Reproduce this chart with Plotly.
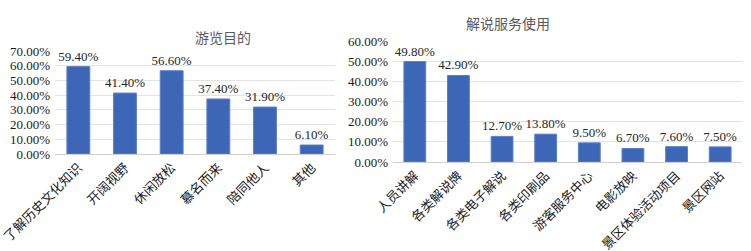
import plotly.graph_objects as go

W, H = 751, 251

left_title = "游览目的"
left_cats = ["了解历史文化知识", "开阔视野", "休闲放松", "慕名而来", "陪同他人", "其他"]
left_vals = [0.594, 0.414, 0.566, 0.374, 0.319, 0.061]

right_title = "解说服务使用"
right_cats = ["人员讲解", "各类解说牌", "各类电子解说", "各类印刷品", "游客服务中心", "电影放映", "景区体验活动项目", "景区网站"]
right_vals = [0.498, 0.429, 0.127, 0.138, 0.095, 0.067, 0.076, 0.075]

FONT = "Liberation Serif, Times New Roman, Noto Sans CJK SC"
BAR = "#3d67b6"
BAR_LINE = "#5a80c8"

def px_x(p):
    return p / W

def px_y(p):
    return 1 - p / H

fig = go.Figure()
fig.add_trace(go.Bar(x=left_cats, y=left_vals, xaxis="x", yaxis="y",
                     marker=dict(color=BAR, line=dict(color=BAR_LINE, width=1)),
                     width=0.49, text=[f"{v*100:.2f}%" for v in left_vals],
                     textposition="outside", cliponaxis=False, constraintext="none",
                     textfont=dict(size=13, color="#262626", family=FONT),
                     hoverinfo="skip"))
fig.add_trace(go.Bar(x=right_cats, y=right_vals, xaxis="x2", yaxis="y2",
                     marker=dict(color=BAR, line=dict(color=BAR_LINE, width=1)),
                     width=0.5, text=[f"{v*100:.2f}%" for v in right_vals],
                     textposition="outside", cliponaxis=False, constraintext="none",
                     textfont=dict(size=13, color="#262626", family=FONT),
                     hoverinfo="skip"))

axis_common = dict(tickfont=dict(size=13, color="#1a1a1a", family=FONT), automargin=False)

fig.update_layout(
    width=W, height=H,
    margin=dict(l=0, r=0, t=0, b=0),
    paper_bgcolor="white", plot_bgcolor="white",
    showlegend=False,
    font=dict(family=FONT),
    xaxis=dict(domain=[px_x(55), px_x(335)], anchor="y", tickangle=-45,
               showgrid=False, showline=True, linecolor="#d0d0d0", ticks="",
               **axis_common),
    yaxis=dict(domain=[px_y(154), px_y(51)], anchor="x", range=[0, 0.7],
               dtick=0.1, tickformat=".2%", showgrid=True, gridcolor="#e3e3e3",
               zeroline=False, ticklabelstandoff=4, **axis_common),
    xaxis2=dict(domain=[px_x(393), px_x(742)], anchor="y2", tickangle=-45,
                showgrid=False, showline=True, linecolor="#d0d0d0", ticks="",
                **axis_common),
    yaxis2=dict(domain=[px_y(162), px_y(41)], anchor="x2", range=[0, 0.6],
                dtick=0.1, tickformat=".2%", showgrid=True, gridcolor="#e3e3e3",
                zeroline=False, ticklabelstandoff=4, **axis_common),
    annotations=[
        dict(text=left_title, x=px_x(193), y=px_y(29), xref="paper", yref="paper",
             showarrow=False, font=dict(size=14, color="#595959", family=FONT)),
        dict(text=right_title, x=px_x(552), y=px_y(14), xref="paper", yref="paper",
             showarrow=False, font=dict(size=14, color="#595959", family=FONT)),
    ],
)

fig.write_html("out.html", config={"displayModeBar": False},
               post_script="document.body.style.margin='0';document.body.style.overflow='hidden';")
